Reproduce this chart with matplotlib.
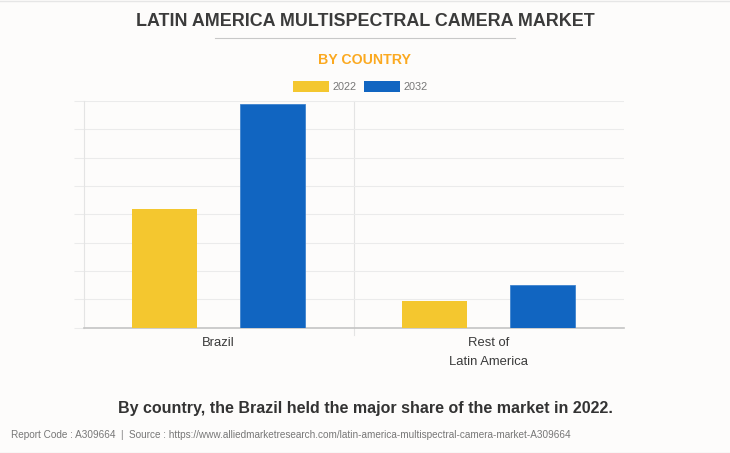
import numpy as np
import matplotlib
matplotlib.use("Agg")
import matplotlib.pyplot as plt
from matplotlib.patches import Patch

plt.rcParams["font.family"] = ["Liberation Sans", "DejaVu Sans"]

# data
categories = ["Brazil", "Rest of\nLatin America"]
years = ["2022", "2032"]
values_2022 = [4.19, 0.93]
values_2032 = [7.9, 1.5]
colors = ["#F4C72F", "#1165C1"]

W, H = 730, 453
BG = "#FDFCFB"

fig = plt.figure(figsize=(W / 100, H / 100), dpi=100, facecolor=BG)
# axes box in pixels: x 83.5-623.5, y 101-327.5
ax = fig.add_axes([83.5 / W, 1 - 327.5 / H, 540 / W, 226.5 / H], facecolor=BG)

x = np.arange(len(categories))
bar_w = 0.24
ax.bar(x - 0.2, values_2022, bar_w, color=colors[0], zorder=3)
ax.bar(x + 0.2, values_2032, bar_w, color=colors[1], zorder=3,
       edgecolor="#3F83CE", linewidth=0.6)

ax.set_xlim(-0.5, 1.5)
ax.set_ylim(0, 8)
ax.set_yticks(range(9))
ax.set_yticklabels([])
ax.set_xticks(x)
ax.set_xticklabels(categories, fontsize=9.4, color="#3A3A3A", linespacing=1.7)
ax.tick_params(axis="x", length=0, pad=7)
ax.tick_params(axis="y", length=7, width=0.8, color="#EBEBEB")
ax.get_yticklines()[0].set_color("#C4C4C4")
ax.grid(axis="y", color="#EBEBEB", linewidth=0.8, zorder=0)

for side in ["top", "right"]:
    ax.spines[side].set_visible(False)
ax.spines["left"].set_color("#E4E4E4")
ax.spines["left"].set_linewidth(0.8)
ax.spines["bottom"].set_color("#C4C4C4")
ax.spines["bottom"].set_linewidth(1.2)

# category divider runs a little below the axis
ax.plot([0.5, 0.5], [-0.27, 8], color="#E4E4E4", linewidth=0.8, zorder=1, clip_on=False)

fig.text(365 / W, 1 - 21.5 / H, "LATIN AMERICA MULTISPECTRAL CAMERA MARKET", ha="center", va="center",
         fontsize=12.9, fontweight="bold", color="#3B3B3B")
fig.add_artist(plt.Line2D([215 / W, 515 / W], [1 - 37.5 / H] * 2, color="#C8C8C8", linewidth=0.8))
fig.text(365 / W, 1 - 59.5 / H, "BY COUNTRY", ha="center", va="center",
         fontsize=10.2, fontweight="bold", color="#FBA920")

handles = [Patch(facecolor=c, edgecolor="none") for c in colors]
fig.legend(handles, years, loc="center", bbox_to_anchor=(360.5 / W, 1 - 86.5 / H), ncol=2, frameon=False,
           fontsize=7.8, labelcolor="#777777", handlelength=3.3, handleheight=1.2,
           handletextpad=0.37, columnspacing=0.65, borderpad=0)

fig.text(365 / W, 1 - 408 / H, "By country, the Brazil held the major share of the market in 2022.",
         ha="center", va="center", fontsize=11.5, fontweight="bold", color="#333333")
fig.text(11 / W, 1 - 435 / H,
         "Report Code : A309664  |  Source : https://www.alliedmarketresearch.com/latin-america-multispectral-camera-market-A309664",
         ha="left", va="center", fontsize=7.16, color="#777777")

# thin frame lines at the picture's edges
fig.add_artist(plt.Line2D([0, 1], [1 - 0.5 / H] * 2, color="#E6E6E6", linewidth=1))
fig.add_artist(plt.Line2D([0, 1], [0.5 / H] * 2, color="#E6E6E6", linewidth=1))

fig.savefig("out.png", dpi=100, facecolor=BG)
